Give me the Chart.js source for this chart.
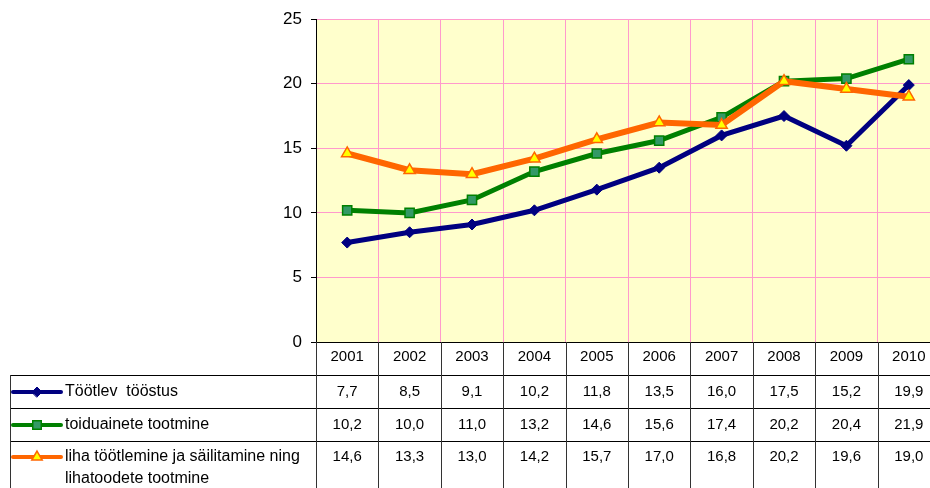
<!DOCTYPE html>
<html>
  <head>
    <meta charset="utf-8">
    <script src="https://cdn.jsdelivr.net/npm/chart.js"></script>
    <style>
      html, body { margin: 0; padding: 0; background: #fff; overflow: hidden; }
      #chart_div { width: 940px; height: 488px; }
    </style>
  </head>
  <body>
    <div id="chart_div"><canvas id="industryChart" width="940" height="488"></canvas></div>

    <script type="text/javascript">
      // data
      var years = ['2001', '2002', '2003', '2004', '2005', '2006', '2007', '2008', '2009', '2010'];
      var tootlevTooStus = [7.7, 8.5, 9.1, 10.2, 11.8, 13.5, 16.0, 17.5, 15.2, 19.9];
      var toiduaineteTootmine = [10.2, 10.0, 11.0, 13.2, 14.6, 15.6, 17.4, 20.2, 20.4, 21.9];
      var lihaTootmine = [14.6, 13.3, 13.0, 14.2, 15.7, 17.0, 16.8, 20.2, 19.6, 19.0];
      var yTicks = [0, 5, 10, 15, 20, 25];

      var seriesNames = [
        ['Töötlev  tööstus'],
        ['toiduainete tootmine'],
        ['liha töötlemine ja säilitamine ning', 'lihatoodete tootmine']
      ];

      var FONT = '"Liberation Sans", Arial, sans-serif';

      function fmt(v) {
        return v.toFixed(1).replace('.', ',');
      }

      // yellow plot background
      var plotBg = {
        id: 'plotBg',
        beforeDraw: function (chart) {
          var a = chart.chartArea, c = chart.ctx;
          c.save();
          c.fillStyle = '#FFFFCC';
          c.fillRect(a.left, a.top, a.right - a.left, a.bottom - a.top);
          c.restore();
        }
      };

      // data table under the plot, with legend keys
      var dataTable = {
        id: 'dataTable',
        afterDraw: function (chart) {
          var c = chart.ctx;
          var xs = chart.scales.x;
          var a = chart.chartArea;
          var w = xs.getPixelForValue(1) - xs.getPixelForValue(0);
          var top = a.bottom;
          var rows = [top, 375, 408, 441];
          var bottom = 488;
          var tableLeft = 10;

          c.save();
          c.lineWidth = 1;
          c.strokeStyle = '#000';
          // horizontal lines
          c.beginPath();
          c.moveTo(a.left, Math.round(top) + 0.5);
          c.lineTo(a.right, Math.round(top) + 0.5);
          for (var r = 1; r < rows.length; r++) {
            c.moveTo(tableLeft, rows[r] + 0.5);
            c.lineTo(a.right, rows[r] + 0.5);
          }
          c.stroke();

          // vertical lines
          c.strokeStyle = '#333';
          c.beginPath();
          c.moveTo(tableLeft + 0.5, rows[1]);
          c.lineTo(tableLeft + 0.5, bottom);
          for (var i = 0; i <= years.length; i++) {
            var bx = Math.round(xs.getPixelForValue(i) - w / 2) + 0.5;
            c.moveTo(bx, top);
            c.lineTo(bx, bottom);
          }
          c.stroke();

          // header + values
          c.fillStyle = '#000';
          c.font = '15px ' + FONT;
          c.textAlign = 'center';
          c.textBaseline = 'middle';
          var valueRows = [tootlevTooStus, toiduaineteTootmine, lihaTootmine];
          var textY = [392, 425, 457];
          years.forEach(function (y, i) {
            var cx = xs.getPixelForValue(i);
            c.fillText(y, cx, 357);
            valueRows.forEach(function (vals, k) {
              c.fillText(fmt(vals[i]), cx, textY[k]);
            });
          });

          // legend keys
          var ds = chart.data.datasets;
          c.textAlign = 'left';
          c.font = '16px ' + FONT;
          ds.forEach(function (d, k) {
            var ly = textY[k];
            c.strokeStyle = d.borderColor;
            c.lineWidth = 4;
            c.lineCap = 'round';
            c.beginPath();
            c.moveTo(13, ly);
            c.lineTo(61, ly);
            c.stroke();
            c.fillStyle = d.pointBackgroundColor;
            c.strokeStyle = d.pointBorderColor;
            c.lineWidth = d.pointBorderWidth;
            Chart.helpers.drawPoint(c, {
              pointStyle: d.pointStyle,
              radius: d.pointRadius - 0.5,
              borderWidth: d.pointBorderWidth
            }, 37, ly);
            c.fillStyle = '#000';
            seriesNames[k].forEach(function (line, j) {
              c.fillText(line, 65, ly + j * 22);
            });
          });
          c.restore();
        }
      };

      function drawChart() {
        var ctx = document.getElementById('industryChart');

        new Chart(ctx, {
          type: 'line',
          data: {
            labels: years,
            datasets: [{
              label: seriesNames[0].join(' '),
              data: tootlevTooStus,
              borderColor: '#000080',
              borderWidth: 5,
              tension: 0,
              pointStyle: 'rectRot',
              pointRadius: 5.5,
              pointBackgroundColor: '#000080',
              pointBorderColor: '#000080',
              pointBorderWidth: 1,
              order: 3
            }, {
              label: seriesNames[1].join(' '),
              data: toiduaineteTootmine,
              borderColor: '#008000',
              borderWidth: 5,
              tension: 0,
              pointStyle: 'rect',
              pointRadius: 6.5,
              pointBackgroundColor: '#339966',
              pointBorderColor: '#008000',
              pointBorderWidth: 1.5,
              order: 2
            }, {
              label: seriesNames[2].join(' '),
              data: lihaTootmine,
              borderColor: '#FF6600',
              borderWidth: 6,
              tension: 0,
              pointStyle: 'triangle',
              pointRadius: 6.5,
              pointBackgroundColor: '#FFFF00',
              pointBorderColor: '#FF6600',
              pointBorderWidth: 1.5,
              order: 1
            }]
          },
          options: {
            responsive: false,
            animation: false,
            layout: {
              autoPadding: false,
              padding: { top: 14, bottom: 146, left: 0, right: 0 }
            },
            plugins: {
              legend: { display: false },
              tooltip: { enabled: false }
            },
            scales: {
              x: {
                offset: true,
                grid: {
                  offset: true,
                  color: '#FF99CC',
                  drawTicks: false
                },
                border: { display: false },
                ticks: { display: false }
              },
              y: {
                min: 0,
                max: 25,
                afterFit: function (scale) { scale.width = 316; },
                afterBuildTicks: function (scale) {
                  scale.ticks = yTicks.map(function (v) { return { value: v }; });
                },
                grid: {
                  color: function (c) { return c.tick && c.tick.value === 0 ? 'rgba(0,0,0,0)' : '#FF99CC'; },
                  tickColor: '#000',
                  tickLength: 5
                },
                border: { display: true, color: '#000', width: 1 },
                ticks: {
                  padding: 9,
                  color: '#000',
                  font: { family: FONT, size: 17 }
                }
              }
            }
          },
          plugins: [plotBg, dataTable]
        });
      }

      drawChart();
    </script>
  </body>
</html>
